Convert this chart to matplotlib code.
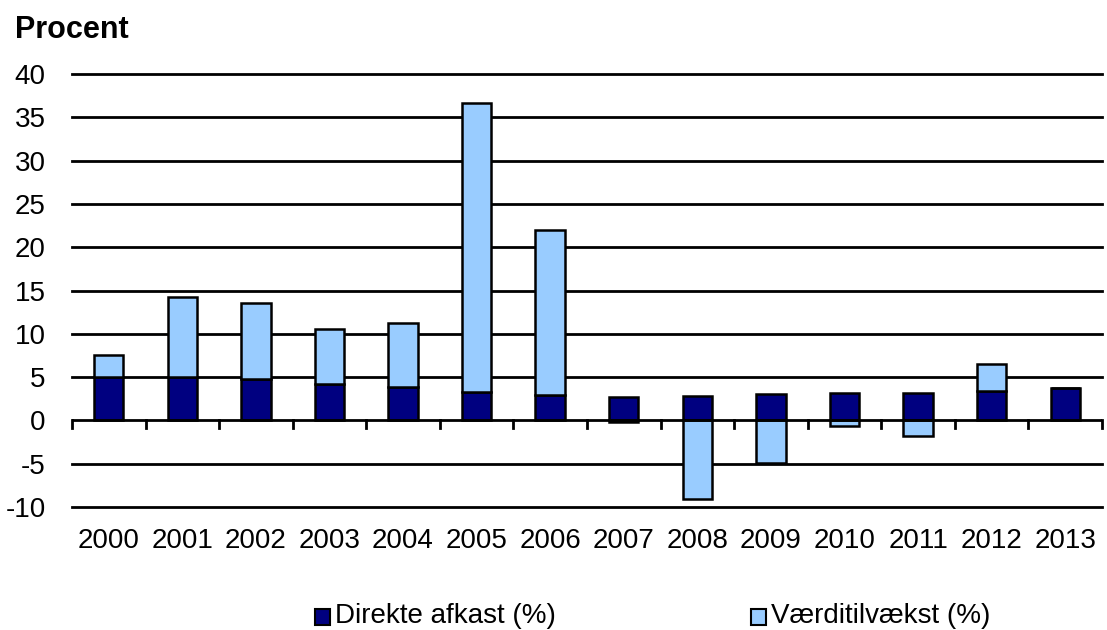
import matplotlib
matplotlib.use("Agg")
import matplotlib.pyplot as plt
import numpy as np
from matplotlib.patches import Rectangle

years = ["2000", "2001", "2002", "2003", "2004", "2005", "2006",
         "2007", "2008", "2009", "2010", "2011", "2012", "2013"]
direkte = [5.0, 5.0, 4.8, 4.2, 3.9, 3.3, 2.9, 2.7, 2.8, 3.1, 3.2, 3.2, 3.4, 3.7]
vaerdi = [2.6, 9.3, 8.8, 6.4, 7.4, 33.4, 19.1, -0.2, -9.1, -4.9, -0.7, -1.8, 3.1, 0.1]
yticks = [-10, -5, 0, 5, 10, 15, 20, 25, 30, 35, 40]
legend_labels = ["Direkte afkast (%)", "Værditilvækst (%)"]

plt.rcParams['font.family'] = ['Liberation Sans', 'DejaVu Sans']

fig = plt.figure(figsize=(11.07, 6.3), dpi=100)
ax = fig.add_axes([0.065, 0.1952, 0.9305, 0.6873])

x = np.arange(len(years))
dark = "#000080"
light = "#99CCFF"
w = 0.4

ax.bar(x, direkte, width=w, color=dark, edgecolor="black", linewidth=1.8, zorder=3)
bottoms = [d if v > 0 else 0 for d, v in zip(direkte, vaerdi)]
ax.bar(x, vaerdi, width=w, bottom=bottoms, color=light, edgecolor="black", linewidth=1.8, zorder=3)

ax.set_xlim(-0.5, len(years) - 0.5)
ax.set_ylim(-10, 40)
for t in yticks:
    if t != 0:
        ax.axhline(t, color="black", linewidth=2, zorder=1, clip_on=False)
ax.axhline(0, color="black", linewidth=2, zorder=4)

for s in ax.spines.values():
    s.set_visible(False)

ax.set_yticks(yticks)
ax.set_yticklabels([str(t) for t in yticks], fontsize=20)
ax.tick_params(axis="y", length=0, pad=19)

ax.set_xticks(x)
ax.set_xticklabels(years, fontsize=20)
ax.tick_params(axis="x", length=0, pad=15)

# boundary tick marks below zero line
for b in np.arange(-0.5, len(years) - 0.5 + 0.01, 1.0):
    ax.plot([b, b], [0, -0.9], color="black", linewidth=2, zorder=4, clip_on=False)

fig.text(0.0135, 0.952, "Procent", fontsize=22, fontweight="bold", va="center", ha="left")

# legend
W, H = 1107.0, 630.0
lx = [315, 751]
for px, lab, col in zip(lx, legend_labels, [dark, light]):
    fig.add_artist(Rectangle((px / W, 1 - 625 / H), 15 / W, 16 / H, transform=fig.transFigure,
                             facecolor=col, edgecolor="black", linewidth=1.5))
    fig.text((px + 20) / W, 1 - 616 / H, lab, fontsize=20, va="center", ha="left")

fig.savefig("out.png", dpi=100)
